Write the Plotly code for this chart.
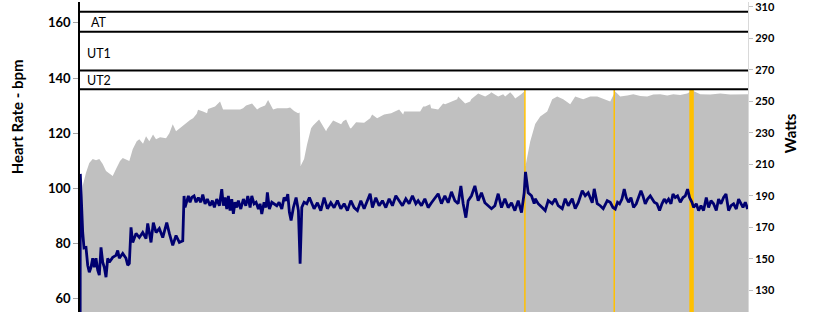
import plotly.graph_objects as go

# ---- data (time index, heart rate bpm) ----
hr_t = [0, 1.5, 2.7, 6, 9.3, 12.7, 16, 19.3, 22.7, 26, 29, 32.7, 36, 40, 42.7, 46, 49.3, 52.7,
        56.7, 59.3, 63, 66, 69.3, 73, 76, 80, 86, 89.3, 92.7, 96, 100, 106, 110, 113, 116.7, 118,
        123, 127, 128, 135, 140, 143, 147, 153, 160, 163, 166, 172, 177, 180, 185, 188, 193, 197,
        203, 207, 210, 214, 218, 219.5, 220.5, 224, 227, 231, 233, 239, 240, 246, 247, 253, 261,
        263, 266, 270, 271, 276, 284, 290, 292, 297, 304, 310, 311, 319, 323, 324, 330, 338, 340,
        343, 345, 350, 351, 358, 363, 365, 371, 377, 378, 385, 390, 391, 398, 400, 405, 410, 411,
        418, 423, 425, 430, 433, 435, 441, 444, 445.3, 450, 455, 460, 467, 472, 477, 483, 490, 495,
        503, 510, 517, 523, 530, 535, 540, 547, 553, 560, 567, 573, 580, 587, 593, 600, 607, 612,
        620, 630, 640, 650, 660, 667.7]
hr_bpm = [85, 95, 100.9, 105.6, 109.2, 110.6, 110.2, 110.6, 108.8, 106.3, 105.5, 104.5, 107.0,
          109.9, 111.0, 110.5, 109.9, 114.2, 117.1, 117.8, 116.2, 118.9, 117.1, 119.5, 117.8, 118.5,
          118.2, 120.0, 123.2, 120.7, 122.0, 123.6, 124.8, 125.4, 127.0, 128.5, 127.9, 127.2, 128.8,
          129.7, 131.5, 128.6, 128.6, 128.6, 128.6, 129.0, 130.0, 130.8, 128.6, 129.3, 130.0, 132.0,
          128.6, 129.0, 129.0, 129.0, 129.3, 128.0, 127.2, 127.5, 108.1, 110.6, 116.0, 121.8, 122.8,
          125.0, 124.3, 120.7, 121.5, 124.6, 123.2, 124.3, 125.0, 121.8, 121.8, 124.0, 123.8, 125.4,
          126.8, 125.4, 126.8, 127.2, 127.2, 128.6, 126.8, 127.9, 127.9, 127.9, 127.9, 129.7, 129.7,
          130.5, 129.0, 128.6, 130.8, 130.5, 131.5, 132.3, 133.3, 130.8, 131.5, 132.3, 134.4, 134.1,
          133.3, 134.4, 134.8, 133.3, 134.1, 133.3, 134.8, 133.7, 132.6, 134.1, 135.1, 108.1, 117.0,
          123.3, 126.0, 127.9, 132.3, 133.3, 132.3, 130.5, 133.3, 132.3, 133.3, 133.3, 132.5, 131.5,
          135.1, 133.3, 133.7, 134.1, 133.5, 133.3, 134.0, 134.1, 133.7, 134.1, 133.8, 134.4, 135.5,
          134.1, 134.0, 134.4, 134.0, 134.2, 134.1]

# ---- data (time index, power watts) ----
w_t = [0, 0.3, 2.7, 4, 6, 7.7, 9.3, 11, 12.7, 14.3, 16, 17.7, 19.3, 21, 22.7, 24.3, 26, 27.7,
       29.3, 32.7, 36, 37.7, 39.3, 42.7, 46, 47.7, 49.3, 51, 52.7, 56, 59.3, 62.7, 66, 67.7, 71,
       73.3, 76, 79.3, 82.7, 86.7, 89.3, 92.7, 96, 99.3, 102.7,
       104, 105, 106.7, 108.3, 110, 111.7, 114, 116, 118.3, 120.7, 122.7, 125, 127.3, 130, 132.3,
       134.3, 136.7, 139.3, 141.7, 143.3, 145, 146.7, 148.3, 150, 151.7, 153.3, 155, 156.7, 158.3,
       160.7, 163.3, 165.7, 167.7, 170, 171.7, 174, 176, 178.3, 180, 181.7, 184, 186, 187.3, 189.3,
       191.7, 194, 196.7, 199, 201.7, 204, 206, 207.7, 209.3, 211, 213.3, 216, 218.3, 220, 221.7,
       224, 226.7, 229.3,
       234, 237.3, 240.7, 244,
       247.3, 250.7, 254, 257.3, 260.7, 264, 267.3, 270.7, 274, 277.3, 280.7, 284, 287.3, 290,
       292.3, 295.7, 299, 302.3, 305.7, 309, 312.3, 315.7, 319, 322.3, 325.7, 329, 332.3, 335.7,
       338, 341.3, 344.7, 348, 351.3, 354.7, 358, 361.3, 364.7, 368, 371.3, 374.7, 378, 380.7, 383,
       385.7, 388, 391.3, 394.7, 398, 401.3, 404.7, 408, 411.3, 414.7, 418, 421.3, 424.7, 428,
       431.3, 434.7, 438, 441.3, 444, 445.3, 448, 451.3, 454, 455, 458, 462, 465, 468, 472, 475,
       478, 482, 485, 488, 492, 495, 498, 502, 505, 508, 512, 514, 517, 520, 523, 527,
       530, 532.7, 535, 537.3, 539.3, 541.7, 544, 546, 548.3, 550.7, 553.3, 556, 558.3, 560.7,
       562.7, 565, 567.3, 570, 572, 574, 576.7, 579.3, 581.7, 584, 586, 588.3, 590.7, 592.7, 595,
       597.3, 600, 602.7, 605, 607.3, 609.3, 611.7, 613.3, 616, 618.3, 620.7, 623.3, 626, 628.3,
       630.7, 633.3, 636, 638.3, 640.7, 643.3, 645.7, 648.3, 650.7, 653.3, 656, 658.3, 660.7,
       662.7, 665, 667.3]
w_watts = [0, 204.0, 166.8, 157.0, 157.3, 146.0, 141.6, 144.7, 150.4, 144.7, 150.4, 142.8, 139.7,
           157.3, 147.9, 144.7, 138.4, 150.4, 147.9, 151.0, 152.3, 155.4, 150.4, 153.5, 150.4,
           146.0, 147.2, 170.0, 160.5, 166.2, 163.6, 166.8, 163.0, 172.5, 160.5, 173.1, 166.8,
           169.3, 163.6, 173.1, 166.2, 158.6, 164.9, 160.5, 161.5,
           190.0, 182.7, 187.0, 190.0, 185.9, 189.0, 190.0, 186.0, 189.0, 186.0, 190.8, 185.0,
           188.0, 183.8, 187.0, 182.7, 188.0, 183.8, 194.3, 183.8, 189.0, 181.7, 190.0, 180.7,
           188.0, 178.6, 186.0, 182.7, 187.0, 181.7, 188.0, 183.8, 190.0, 182.7, 190.0, 185.0,
           186.0, 181.7, 185.0, 178.6, 186.0, 182.7, 192.2, 181.7, 186.0, 185.0, 183.8, 186.0,
           181.7, 189.0, 187.0, 191.2, 179.6, 174.4, 182.7, 189.0, 180.7, 147.0, 182.7, 186.0,
           185.0, 189.0,
           181.9, 185.7, 180.7, 188.9,
           181.9, 185.7, 182.6,
           187.0, 181.9, 185.1, 180.7, 187.0, 182.6, 180.7, 187.0, 181.9, 187.0, 191.4, 182.6,
           188.9, 183.8, 187.0, 182.6, 188.2, 183.8, 190.1, 187.0, 183.8, 188.2, 185.1, 190.1,
           185.1, 187.0, 183.8, 188.2, 182.6, 185.7, 188.9, 191.4, 185.1, 190.1, 185.7, 192.6,
           187.0, 185.1, 196.4, 185.1, 176.2, 187.0, 190.1, 196.4, 187.0, 192.0, 185.7, 183.8,
           181.9, 183.8, 191.4, 182.6, 188.2, 182.6, 185.7, 180.7, 187.0, 179.4, 192.0, 205.3,
           192.0, 190.1, 185.1, 188.2, 185.1, 182.6, 180.7, 187.0, 185.1, 188.2, 183.8, 181.9,
           188.2, 183.8, 188.2, 181.9, 185.7, 193.3, 190.1, 192.0, 185.7, 194.5, 185.1, 183.8,
           181.9, 187.0,
           186.0, 182.7, 181.7, 186.0, 185.0, 188.0, 194.3, 189.0, 186.0, 189.0, 182.7, 185.0,
           189.0, 193.3, 190.0, 185.0, 188.0, 190.0, 188.0, 186.0, 185.0, 180.7, 185.0, 188.0,
           186.0, 188.0, 185.0, 191.2, 189.0, 190.0, 186.0, 189.0, 190.0, 194.3, 189.0, 186.0,
           182.7, 185.0, 180.7, 183.8, 180.7, 189.0, 182.7, 187.0, 185.0, 180.7, 188.0, 185.0,
           189.0, 191.2, 180.7, 183.8, 185.0, 181.7, 188.0, 185.0, 182.7, 186.0, 181.7]

# ---- markers and zones ----
marker_t = [444.7, 534.0, 611.3]
marker_top_bpm = [136.0, 136.0, 136.0]
zone_edges_bpm = [135.9, 142.7, 156.8, 164.0]
zone_labels = ["UT2", "UT1", "AT"]
zone_label_bpm = [139.1, 148.8, 160.0]
zone_label_t = [5, 5, 8.5]

left_ticks = [60, 80, 100, 120, 140, 160]
right_ticks = [130, 150, 170, 190, 210, 230, 250, 270, 290, 310]

FONT = "Lato"
fig = go.Figure()

fig.add_trace(go.Scatter(x=hr_t, y=hr_bpm, mode="lines", fill="tozeroy",
                         fillcolor="#c0c0c0", line=dict(width=0, color="#c0c0c0"),
                         hoverinfo="skip", showlegend=False))

marker_widths = [1.5, 1.5, 4.5]
for mt, mtop, mw in zip(marker_t, marker_top_bpm, marker_widths):
    fig.add_trace(go.Scatter(x=[mt, mt], y=[0, mtop], mode="lines",
                             line=dict(color="#ffc000", width=mw),
                             hoverinfo="skip", showlegend=False))

fig.add_trace(go.Scatter(x=w_t, y=w_watts, mode="lines", yaxis="y2",
                         line=dict(color="#000070", width=2.8),
                         hoverinfo="skip", showlegend=False))

for e in zone_edges_bpm:
    fig.add_shape(type="line", xref="paper", x0=0, x1=1, yref="y", y0=e, y1=e,
                  line=dict(color="black", width=2), layer="above")

for lab, yb, tx in zip(zone_labels, zone_label_bpm, zone_label_t):
    fig.add_annotation(x=tx, y=yb, xref="x", yref="y", text=lab, showarrow=False,
                       xanchor="left", yanchor="middle",
                       font=dict(family=FONT, size=12.5, color="black"))

fig.add_annotation(xref="paper", yref="paper", x=-0.0943, y=0.628, text="<b>Heart Rate - bpm</b>",
                   textangle=-90, showarrow=False, xanchor="center", yanchor="middle",
                   font=dict(family=FONT, size=15, color="black"))
fig.add_annotation(xref="paper", yref="paper", x=1.0629, y=0.577, text="<b>Watts</b>",
                   textangle=-90, showarrow=False, xanchor="center", yanchor="middle",
                   font=dict(family=FONT, size=15, color="black"))

fig.update_layout(
    width=820, height=312,
    margin=dict(l=80, r=72, t=0, b=0, pad=0),
    plot_bgcolor="white", paper_bgcolor="white",
    xaxis=dict(range=[0, 667.7], visible=False, showgrid=False, zeroline=False),
    yaxis=dict(range=[55.14, 167.57], tickvals=left_ticks, ticks="outside", ticklen=5,
               tickcolor="#a6a6a6", showline=True, linecolor="black", linewidth=1.5,
               showgrid=False, zeroline=False, ticklabeloverflow="allow",
               tickfont=dict(family=FONT, size=13, color="black", weight="bold")),
    yaxis2=dict(range=[116.31, 313.15], tickvals=right_ticks, overlaying="y", side="right",
                ticks="outside", ticklen=4, tickcolor="#bfbfbf", showline=True,
                linecolor="#d9d9d9", linewidth=1, showgrid=False, zeroline=False,
                ticklabeloverflow="allow",
                tickfont=dict(family=FONT, size=11, color="black", weight="bold")),
)

fig.write_html("out.html")
